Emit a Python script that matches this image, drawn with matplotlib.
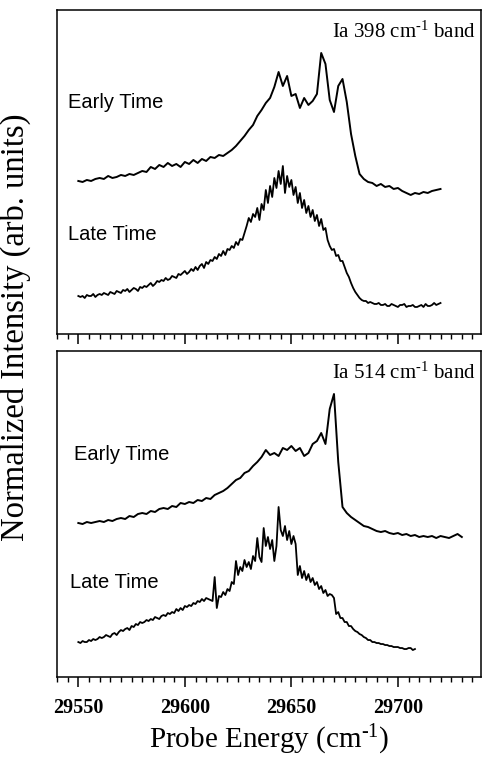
# Time-resolved probe spectra of the Ia 398 and 514 cm-1 bands

import matplotlib
matplotlib.use('Agg')
import matplotlib.pyplot as plt
import numpy as np
from matplotlib.ticker import MultipleLocator

serif = 'Liberation Serif'
sans = 'Liberation Sans'
plt.rcParams['mathtext.fontset'] = 'custom'
plt.rcParams['mathtext.rm'] = serif
plt.rcParams['mathtext.it'] = serif + ':italic'

# probe energy grids (cm-1)
x_top_early = np.arange(29550, 29721, 2)
x_top_late = np.arange(29550, 29721, 1)
x_bot_early = np.arange(29550, 29731, 2)
x_bot_late = np.arange(29550, 29709, 1)

# Ia 398 cm-1 band, early time
top_early = [153, 152, 154, 153, 155, 156, 155, 158, 156, 157, 159, 158, 160, 159, 161, 163,
             162, 167, 165, 169, 167, 171, 168, 170, 167, 172, 170, 174, 171, 175, 173, 177,
             176, 179, 178, 181, 184, 188, 193, 198, 204, 209, 218, 224, 231, 236, 247, 262,
             248, 258, 238, 240, 226, 236, 229, 233, 240, 281, 270, 234, 222, 248, 255, 232,
             200, 178, 160, 155, 152, 151, 148, 150, 147, 148, 145, 146, 143, 141, 139, 141,
             140, 142, 141, 143, 144, 145]
# Ia 398 cm-1 band, late time
top_late = [38, 37, 38, 36, 39, 38, 38, 40, 37, 39,
            40, 39, 41, 40, 39, 42, 41, 40, 43, 42,
            41, 44, 43, 45, 42, 44, 46, 45, 43, 47,
            46, 48, 47, 49, 51, 48, 50, 53, 52, 54,
            53, 56, 54, 55, 58, 57, 56, 60, 59, 61,
            63, 60, 62, 65, 63, 67, 64, 68, 70, 66,
            72, 70, 74, 73, 77, 75, 80, 78, 83, 79,
            85, 84, 88, 86, 92, 89, 95, 94, 101, 108,
            116, 112, 120, 117, 126, 114, 130, 124, 144, 131,
            148, 137, 156, 146, 163, 150, 168, 141, 158, 147,
            154, 139, 147, 131, 141, 126, 134, 121, 128, 117,
            124, 113, 119, 108, 115, 104, 106, 94, 88, 84,
            85, 78, 79, 73, 73, 67, 61, 57, 51, 46,
            42, 39, 36, 34, 33, 33, 31, 32, 31, 30,
            30, 31, 29, 29, 30, 28, 28, 30, 29, 28,
            27, 29, 29, 30, 27, 28, 28, 29, 27, 27,
            28, 29, 27, 30, 28, 28, 29, 31, 29, 30,
            31]
# Ia 514 cm-1 band, early time
bot_early = [154, 153, 155, 154, 155, 156, 155, 157, 156, 158, 159, 158, 161, 160, 163, 164,
             163, 166, 165, 168, 169, 168, 171, 170, 174, 173, 175, 174, 177, 176, 179, 178,
             182, 184, 186, 189, 193, 197, 199, 204, 206, 211, 215, 220, 227, 222, 224, 221,
             229, 227, 231, 226, 229, 221, 224, 233, 236, 244, 233, 268, 283, 215, 170, 164,
             160, 157, 154, 151, 150, 148, 146, 145, 146, 144, 143, 144, 142, 143, 141, 142,
             140, 141, 140, 141, 139, 141, 140, 139, 141, 143, 140]
# Ia 514 cm-1 band, late time
bot_late = [35, 34, 36, 35, 35, 37, 36, 38, 37, 38,
            40, 39, 40, 42, 41, 40, 43, 44, 42, 45,
            47, 46, 48, 49, 47, 51, 50, 53, 52, 55,
            54, 55, 57, 56, 58, 57, 60, 59, 58, 61,
            62, 61, 64, 63, 65, 64, 68, 66, 69, 67,
            71, 70, 72, 71, 74, 73, 76, 75, 78, 76,
            79, 78, 77, 76, 100, 69, 81, 80, 85, 82,
            88, 86, 95, 93, 116, 102, 110, 106, 117, 110,
            115, 108, 121, 116, 139, 120, 115, 149, 131, 140,
            128, 137, 116, 131, 170, 147, 141, 151, 137, 146,
            133, 141, 133, 102, 111, 99, 106, 97, 103, 95,
            99, 92, 95, 88, 91, 84, 87, 81, 83, 82,
            79, 63, 65, 59, 59, 55, 55, 51, 51, 48,
            46, 45, 43, 42, 40, 39, 37, 37, 35, 35,
            34, 34, 33, 33, 32, 32, 31, 31, 30, 30,
            30, 29, 29, 28, 28, 29, 29, 27, 28]

fig = plt.figure(figsize=(4.84, 7.62), dpi=100)
ax1 = fig.add_axes([0.1178, 0.5617, 0.876, 0.4252])
ax2 = fig.add_axes([0.1178, 0.1115, 0.876, 0.4279])

panels = [
    (ax1, x_top_early, top_early, x_top_late, top_late, r'Ia 398 cm$^{\text{-1}}$ band', 324,
     (68, 103), (68, 235), 32),
    (ax2, x_bot_early, bot_early, x_bot_late, bot_late, r'Ia 514 cm$^{\text{-1}}$ band', 326,
     (74, 455), (70, 582), 373),
]

for ax, xe, ye, xl, yl, band, ytop, early_pos, late_pos, band_y in panels:
    ax.plot(xe, ye, color='black', lw=1.4)
    ax.plot(xl, yl, color='black', lw=1.3)
    ax.set_xlim(29540, 29739)
    ax.set_ylim(0, ytop)
    ax.set_yticks([])
    ax.xaxis.set_major_locator(MultipleLocator(50))
    ax.xaxis.set_minor_locator(MultipleLocator(5))
    ax.tick_params(axis='x', which='major', direction='out', length=7, width=1.1)
    ax.tick_params(axis='x', which='minor', direction='out', length=3.5, width=1.0)
    for s in ax.spines.values():
        s.set_linewidth(1.1)
    # labels placed in pixel coordinates of the figure
    fig.text(early_pos[0] / 484, 1 - early_pos[1] / 762, 'Early Time', family=sans,
             fontsize=14.5, va='center', ha='left')
    fig.text(late_pos[0] / 484, 1 - late_pos[1] / 762, 'Late Time', family=sans,
             fontsize=14.5, va='center', ha='left')
    fig.text(476 / 484, 1 - band_y / 762, band, family=serif, fontsize=15,
             va='center', ha='right')

ax1.tick_params(axis='x', labelbottom=False)
for lab in ax2.get_xticklabels():
    lab.set_fontfamily(serif)
    lab.set_fontweight('bold')
    lab.set_fontsize(14.5)
ax2.tick_params(axis='x', which='major', pad=8)

# x label centred under the axes, kept inside the figure
fig.text(0.5555, 1 - 740 / 762, r'Probe Energy (cm$^{\text{-1}}$)', family=serif,
         fontsize=21, va='center', ha='center')
fig.text(15 / 484, 1 - 327 / 762, 'Normalized Intensity (arb. units)', family=serif,
         fontsize=23.5, rotation=90, va='center', ha='center')

plt.savefig('out.png', dpi=100)
